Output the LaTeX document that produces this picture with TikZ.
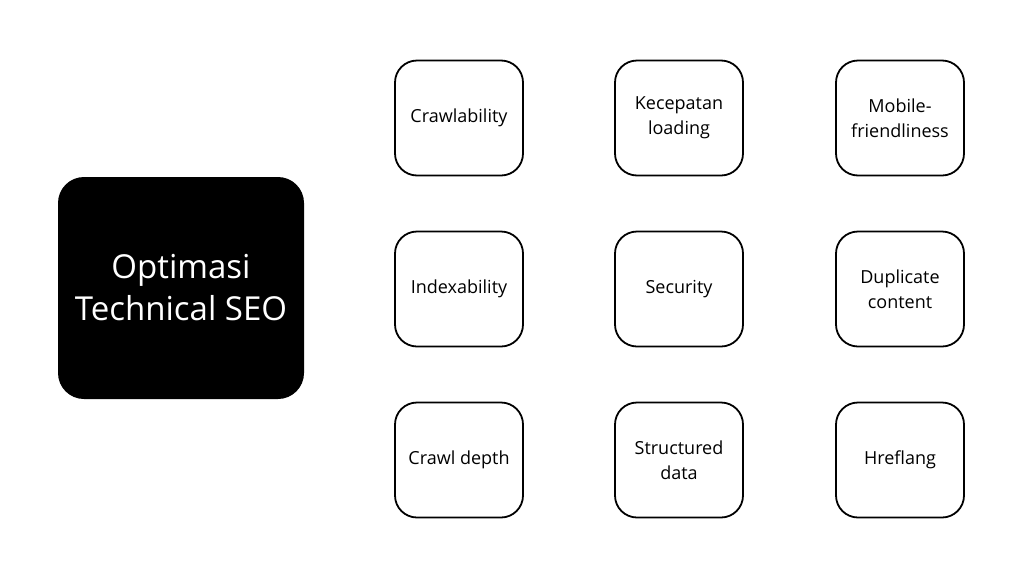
\documentclass[tikz,border=0pt]{standalone}
\usepackage{fontspec}
\setmainfont{Open Sans}
\begin{document}
\begin{tikzpicture}[x=1pt,y=-1pt,
topic/.style={draw=black, line width=1.8pt, rounded corners=22pt, minimum width=128pt, minimum height=115pt, align=center, font=\fontsize{18}{25}\selectfont},
hub/.style={fill=black, rounded corners=26pt, minimum width=246pt, minimum height=222pt, align=center, text=white, font=\fontsize{33}{42}\selectfont}]
\useasboundingbox (0,0) rectangle (1024,576);

\node[hub] (hub) at (181,288) {Optimasi\\Technical SEO};

\node[topic] (crawl) at (459,118) {Crawlability};
\node[topic] (speed) at (679,118) {Kecepatan\\loading};
\node[topic] (mobile) at (900,118) {Mobile-\\friendliness};

\node[topic] (index) at (459,289) {Indexability};
\node[topic] (secure) at (679,289) {Security};
\node[topic] (dupe) at (900,289) {Duplicate\\content};

\node[topic] (depth) at (459,460) {Crawl depth};
\node[topic] (schema) at (679,460) {Structured\\data};
\node[topic] (lang) at (900,460) {Hreflang};
\end{tikzpicture}
\end{document}
